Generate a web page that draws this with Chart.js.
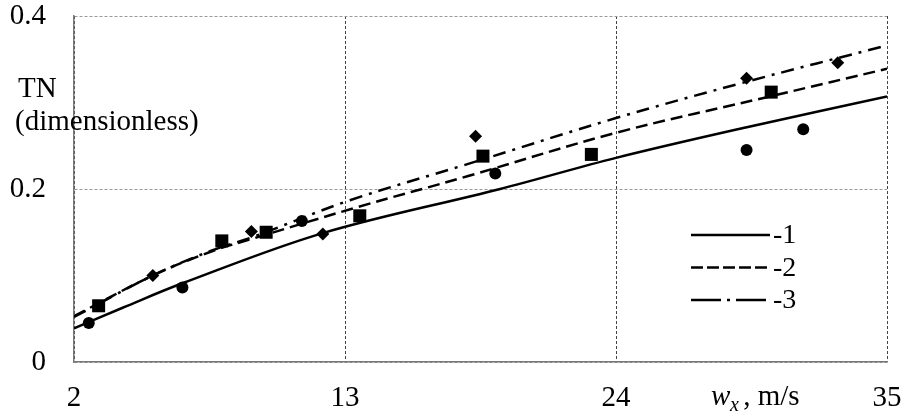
<!DOCTYPE html>
<html>
<head>
<meta charset="utf-8">
<script src="https://cdn.jsdelivr.net/npm/chart.js@4"></script>
<style>
  body { margin: 0; background: #fff; }
  #wrap { width: 906px; height: 420px; }
</style>
</head>
<body>
<div id="wrap"><canvas id="tnChart"></canvas></div>
<script>
// curves 1..3 at a few wind speeds
const curve1X = [2, 4, 6.4, 12.1, 19.3, 24, 29.4, 35]
const curve1Y = [0.039, 0.063, 0.091, 0.149, 0.200, 0.236, 0.272, 0.307]
const curve2X = [2, 5.2, 7.6, 9.3, 13.5, 18, 24, 30.4, 35]
const curve2Y = [0.053, 0.100, 0.128, 0.143, 0.179, 0.215, 0.265, 0.308, 0.339]
const curve3X = [2, 5.2, 7.6, 9.3, 13.2, 18, 24, 29.3, 35]
const curve3Y = [0.052, 0.100, 0.129, 0.145, 0.187, 0.229, 0.282, 0.324, 0.366]

// measured points
const circleX = [2.6, 6.4, 11.25, 19.1, 29.3, 31.6]
const circleY = [0.045, 0.086, 0.163, 0.218, 0.245, 0.269]
const squareX = [3.0, 8.0, 9.8, 13.6, 18.6, 23.0, 30.3]
const squareY = [0.065, 0.140, 0.150, 0.169, 0.238, 0.240, 0.312]
const diamondX = [5.2, 9.2, 12.1, 18.3, 29.3, 33.0]
const diamondY = [0.100, 0.151, 0.148, 0.261, 0.328, 0.346]

const xTicks = [2, 13, 24, 35]
const yTicks = [0, 0.2, 0.4]
const legendLabels = ["-1", "-2", "-3"]

const SERIF = "'Liberation Serif', 'Times New Roman', serif"
const dashed = [12, 6]
const dashDot = [13, 7, 3, 7]

const pts = (xs, ys) => xs.map((x, i) => ({x: x, y: ys[i]}))

function curve(xs, ys, dash) {
    return {
        type: "line",
        data: pts(xs, ys),
        borderColor: "#000",
        borderWidth: 2.5,
        borderDash: dash,
        pointRadius: 0,
        showLine: true,
        tension: 0.35,
        fill: false
    }
}

function marks(xs, ys, style, r) {
    return {
        data: pts(xs, ys),
        pointStyle: style,
        pointRadius: r,
        backgroundColor: "#000",
        borderColor: "#000",
        borderWidth: 0,
        showLine: false
    }
}

// chart.js adds tick padding to the plot inset, drop it so the plot box stays put
function noPad(s) {
    s.paddingTop = s.paddingBottom = s.paddingLeft = s.paddingRight = 0
}

// legend inside plot + axis titles
const annotations = {
    id: "annotations",
    afterDraw(chart) {
        const ctx = chart.ctx
        const a = chart.chartArea
        ctx.save()
        ctx.fillStyle = "#000"
        ctx.font = "29px " + SERIF
        ctx.textBaseline = "alphabetic"
        ctx.fillText("TN", 18, 97)
        ctx.fillText("(dimensionless)", 15, 130)

        // w_x , m/s
        ctx.font = "italic 29px " + SERIF
        ctx.fillText("w", 711, 405)
        ctx.font = "italic 20px " + SERIF
        ctx.fillText("x", 730, 411)
        ctx.font = "29px " + SERIF
        ctx.fillText(" , m/s", 736, 405)

        // legend
        const dashes = [[], [12, 4], [30, 6, 3, 6]]
        const x0 = a.left + 617, x1 = a.left + 696
        legendLabels.forEach((lbl, i) => {
            const y = a.top + 219 + i * 32.5
            ctx.beginPath()
            ctx.setLineDash(dashes[i])
            ctx.lineWidth = 2.5
            ctx.strokeStyle = "#000"
            ctx.moveTo(x0, y)
            ctx.lineTo(x1, y)
            ctx.stroke()
            ctx.setLineDash([])
            ctx.font = "28px " + SERIF
            ctx.fillText(lbl, x1 + 3, y + 8)
        })
        ctx.restore()
    }
}

new Chart(document.querySelector("#tnChart").getContext("2d"), {
    type: "scatter",
    data: {
        datasets: [
            curve(curve1X, curve1Y, []),
            curve(curve2X, curve2Y, dashed),
            curve(curve3X, curve3Y, dashDot),
            marks(circleX, circleY, "circle", 6),
            marks(squareX, squareY, "rect", 9.2),
            marks(diamondX, diamondY, "rectRot", 6.5)
        ]
    },
    options: {
        responsive: true,
        maintainAspectRatio: false,
        animation: false,
        layout: {
            autoPadding: false,
            padding: {top: 16, right: 19, left: 0, bottom: 0}
        },
        plugins: {
            legend: {display: false},
            tooltip: {enabled: false}
        },
        scales: {
            x: {
                type: "linear",
                min: 2,
                max: 35,
                afterFit(s) { s.height = 58; noPad(s) },
                afterBuildTicks(s) { s.ticks = xTicks.map(v => ({value: v})) },
                ticks: {
                    color: "#000",
                    padding: 22,
                    font: {family: SERIF, size: 29, lineHeight: 1},
                    maxRotation: 0
                },
                grid: {color: "#444", lineWidth: 1, drawTicks: false},
                border: {color: "#777", width: 1.5, dash: [3, 2]}
            },
            y: {
                type: "linear",
                min: 0,
                max: 0.4,
                afterFit(s) { s.width = 74; noPad(s) },
                afterBuildTicks(s) { s.ticks = yTicks.map(v => ({value: v})) },
                ticks: {
                    color: "#000",
                    padding: 28,
                    font: {family: SERIF, size: 29, lineHeight: 1},
                    callback: v => v === 0 ? "0" : v.toFixed(1)
                },
                grid: {color: "#999", lineWidth: 1, drawTicks: false},
                border: {color: "#777", width: 1.5, dash: [3, 2]}
            }
        }
    },
    plugins: [annotations]
});
</script>
</body>
</html>
